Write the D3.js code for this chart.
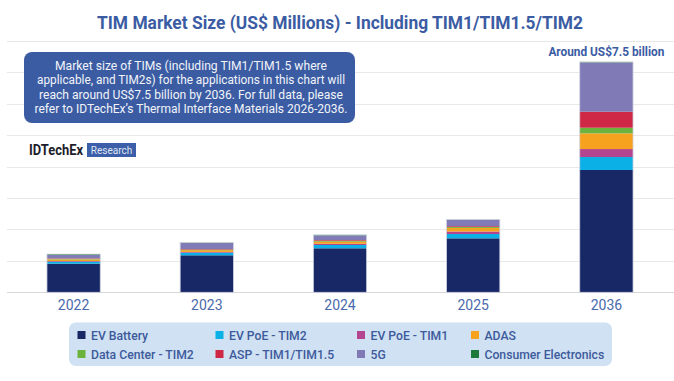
<!DOCTYPE html>
<html>
<head>
<meta charset="utf-8">
<script src="https://cdn.jsdelivr.net/npm/d3@7"></script>
<style>
  html, body { margin: 0; padding: 0; background: #fff; }
  svg { display: block; font-family: Roboto, "Noto Sans", sans-serif; }
</style>
</head>
<body>
<svg id="chart" width="674" height="381"></svg>
<script>
// ---- data ----
const years = ["2022", "2023", "2024", "2025", "2036"];
const seriesNames = ["EV Battery", "EV PoE - TIM2", "EV PoE - TIM1", "ADAS",
  "Data Center - TIM2", "ASP - TIM1/TIM1.5", "5G", "Consumer Electronics"];
const evBattery   = [910, 1177, 1400, 1717, 3890];
const evPoeTim2   = [65, 85, 105, 137, 413];
const evPoeTim1   = [20, 22, 40, 80, 254];
const adas        = [50, 55, 65, 115, 498];
const dataCenter  = [20, 22, 30, 30, 180];
const asp         = [15, 16, 22, 25, 508];
const fiveG       = [105, 190, 150, 200, 1570];
const consumerEl  = [30, 15, 15, 10, 15];
const gridTicks   = [0, 1000, 2000, 3000, 4000, 5000, 6000, 7000, 8000];
const titleText = "TIM Market Size (US$ Millions) - Including TIM1/TIM1.5/TIM2";
const calloutText = "Around US$7.5 billion";
const noteLines = [
  "Market size of TIMs (including TIM1/TIM1.5 where",
  "applicable, and TIM2s) for the applications in this chart will",
  "reach around US$7.5 billion by 2036. For full data, please",
  "refer to IDTechEx\u2019s Thermal Interface Materials 2026-2036."
];

const seriesValues = [evBattery, evPoeTim2, evPoeTim1, adas, dataCenter, asp, fiveG, consumerEl];
const colors = ["#182765", "#0bb1e6", "#b4458f", "#f7a21e", "#6cb33e", "#cf2846", "#807ab7", "#1c7a3c"];

const rows = years.map((y, i) => {
  const r = { year: y };
  seriesNames.forEach((s, k) => r[s] = seriesValues[k][i]);
  return r;
});

const svg = d3.select("#chart");

const x = d3.scaleBand().domain(years).range([7, 673]).paddingInner(0.6).paddingOuter(0.3);
const y = d3.scaleLinear().domain([0, 8000]).range([292.3, 40.8]);

// gridlines
svg.append("g").selectAll("line").data(gridTicks).join("line")
  .attr("x1", 7).attr("x2", 674)
  .attr("y1", d => Math.round(y(d)) + 0.5).attr("y2", d => Math.round(y(d)) + 0.5)
  .attr("stroke", d => d === 0 ? "#d8d8d8" : "#e8e8e8")
  .attr("stroke-width", 1);

// title
svg.append("text")
  .attr("x", 340).attr("y", 29)
  .attr("text-anchor", "middle")
  .attr("font-size", 17.5).attr("font-weight", 700)
  .attr("fill", "#3b5ca3")
  .attr("textLength", 486).attr("lengthAdjust", "spacingAndGlyphs")
  .text(titleText);

// stacked bars
const stack = d3.stack().keys(seriesNames)(rows);
svg.append("g").selectAll("g").data(stack).join("g")
  .attr("fill", (d, i) => colors[i])
  .selectAll("rect").data(d => d).join("rect")
  .attr("x", d => x(d.data.year))
  .attr("width", x.bandwidth())
  .attr("y", d => y(d[1]))
  .attr("height", d => y(d[0]) - y(d[1]));

// bar outline
svg.append("g").selectAll("rect").data(stack[stack.length - 1]).join("rect")
  .attr("x", d => x(d.data.year))
  .attr("width", x.bandwidth())
  .attr("y", d => y(d[1]))
  .attr("height", d => y(0) - y(d[1]))
  .attr("fill", "none")
  .attr("stroke", "#cfd3de").attr("stroke-width", 0.8);

// x axis labels
const xAxis = d3.axisBottom(x).tickSize(0).tickPadding(8);
const gx = svg.append("g").attr("transform", `translate(0,${y(0)})`).call(xAxis);
gx.select(".domain").remove();
gx.selectAll("text")
  .attr("font-size", 14).attr("fill", "#4a6aac")
  .attr("font-family", "Roboto, sans-serif");

// callout over last bar
const last = years[years.length - 1];
svg.append("text")
  .attr("x", x(last) + x.bandwidth() / 2).attr("y", 55.5)
  .attr("text-anchor", "middle")
  .attr("font-size", 12.5).attr("font-weight", 700)
  .attr("fill", "#3b5ca3")
  .attr("textLength", 116).attr("lengthAdjust", "spacingAndGlyphs")
  .text(calloutText);

// note box
svg.append("rect")
  .attr("x", 24).attr("y", 52).attr("width", 331).attr("height", 71)
  .attr("rx", 8).attr("fill", "#3b5ca3");
const noteWidths = [272, 308, 304, 313];
svg.append("g").selectAll("text").data(noteLines).join("text")
  .attr("x", 191).attr("y", (d, i) => 69.5 + i * 14.6)
  .attr("text-anchor", "middle")
  .attr("font-size", 12).attr("fill", "#f2f4fa")
  .attr("textLength", (d, i) => noteWidths[i]).attr("lengthAdjust", "spacingAndGlyphs")
  .text(d => d);

// logo
svg.append("text")
  .attr("x", 29).attr("y", 155)
  .attr("font-size", 14).attr("font-weight", 700)
  .attr("fill", "#1d1d2b")
  .attr("textLength", 54).attr("lengthAdjust", "spacingAndGlyphs")
  .text("IDTechEx");
svg.append("rect")
  .attr("x", 87).attr("y", 143).attr("width", 49).attr("height", 14)
  .attr("fill", "#3d5ea8");
svg.append("text")
  .attr("x", 111.5).attr("y", 153.5)
  .attr("text-anchor", "middle")
  .attr("font-size", 10).attr("fill", "#dfe6f4")
  .text("Research");

// legend
svg.append("rect")
  .attr("x", 69).attr("y", 322.5).attr("width", 543).attr("height", 43.5)
  .attr("rx", 7).attr("fill", "#cfe1f3");
const colX = [77.5, 215.5, 357, 471];
const rowY = [335, 354];
const lg = svg.append("g").selectAll("g").data(seriesNames).join("g")
  .attr("transform", (d, i) => `translate(${colX[i % 4]},${rowY[Math.floor(i / 4)]})`);
lg.append("rect").attr("x", 0).attr("y", -4).attr("width", 8).attr("height", 8)
  .attr("fill", (d, i) => colors[i]);
lg.append("text").attr("x", 13.5).attr("y", 4.5)
  .attr("font-size", 12.2).attr("font-weight", 500).attr("fill", "#3d5a9b")
  .text(d => d);
</script>
</body>
</html>
